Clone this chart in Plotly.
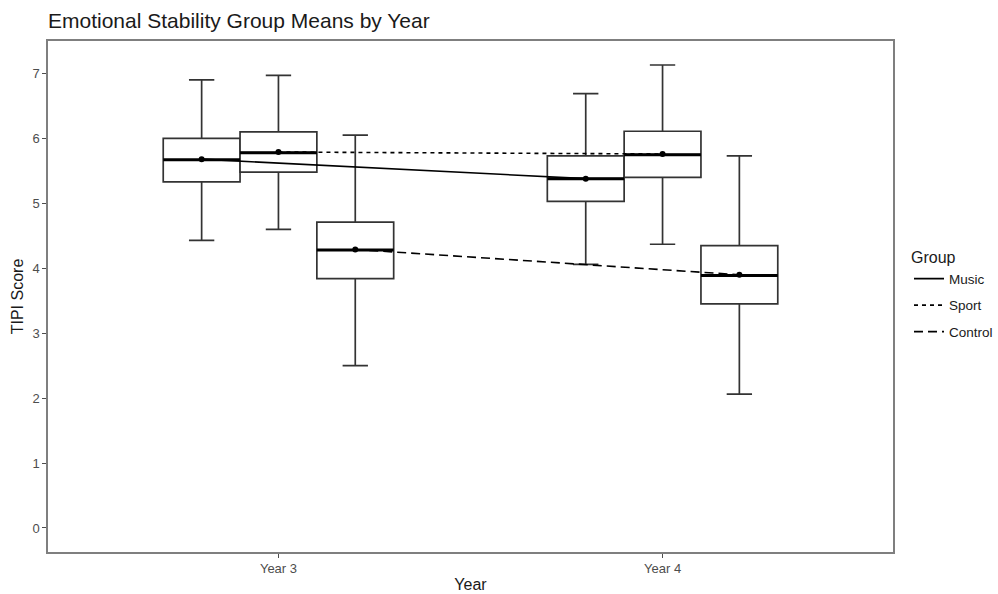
import plotly.graph_objects as go

years = ["Year 3", "Year 4"]
groups = ["Music", "Sport", "Control"]
dashes = {"Music": "solid", "Sport": "4px,4px", "Control": "9px,5px"}

# per group: values for [Year 3, Year 4]
lower = {"Music": [4.43, 4.06], "Sport": [4.60, 4.37], "Control": [2.50, 2.06]}
q1 = {"Music": [5.33, 5.03], "Sport": [5.48, 5.40], "Control": [3.84, 3.45]}
median = {"Music": [5.67, 5.38], "Sport": [5.78, 5.75], "Control": [4.28, 3.89]}
q3 = {"Music": [6.00, 5.73], "Sport": [6.10, 6.11], "Control": [4.71, 4.35]}
upper = {"Music": [6.90, 6.69], "Sport": [6.97, 7.13], "Control": [6.05, 5.73]}
means = {"Music": [5.68, 5.38], "Sport": [5.79, 5.76], "Control": [4.29, 3.90]}

dodge = 0.2
offsets = {g: (i - 1) * dodge for i, g in enumerate(groups)}
base = [1, 2]

fig = go.Figure()

for g in groups:
    xs = [b + offsets[g] for b in base]
    fig.add_trace(go.Box(
        x=xs, q1=q1[g], median=median[g], q3=q3[g],
        lowerfence=lower[g], upperfence=upper[g],
        width=dodge, whiskerwidth=0.33,
        fillcolor="white", line=dict(color="#333333", width=1.7),
        boxpoints=False, showlegend=False, hoverinfo="skip", name=g,
    ))

# thick median lines (ggplot fatten)
for g in groups:
    for b, m in zip(base, median[g]):
        c = b + offsets[g]
        fig.add_trace(go.Scatter(
            x=[c - dodge / 2, c + dodge / 2], y=[m, m], mode="lines",
            line=dict(color="black", width=3), showlegend=False, hoverinfo="skip",
        ))

# mean lines (legend) and points
for g in groups:
    xs = [b + offsets[g] for b in base]
    fig.add_trace(go.Scatter(
        x=xs, y=means[g], mode="lines", name=g,
        line=dict(color="black", width=1.6, dash=dashes[g]),
        legendgroup=g,
    ))
    fig.add_trace(go.Scatter(
        x=xs, y=means[g], mode="markers", name=g,
        marker=dict(color="black", size=6),
        showlegend=False, hoverinfo="skip",
    ))

font = "Liberation Sans, Arial, sans-serif"
axis_common = dict(
    showline=True, linecolor="#7f7f7f", linewidth=1.5, mirror=True,
    ticks="outside", ticklen=4, tickcolor="#4d4d4d", tickwidth=1,
    showgrid=False, zeroline=False, automargin=False,
    tickfont=dict(family=font, size=13, color="#4d4d4d"),
)

fig.update_layout(
    width=998, height=594,
    margin=dict(l=48, r=105, t=41, b=42, autoexpand=False),
    paper_bgcolor="white", plot_bgcolor="white",
    title=dict(text="Emotional Stability Group Means by Year", x=0, xref="paper", xanchor="left",
               y=1 - 21 / 594, yanchor="middle",
               font=dict(family=font, size=21, color="#1a1a1a")),
    xaxis=dict(range=[0.4, 2.6], tickvals=base, ticktext=years,
               title=dict(text="Year", font=dict(family=font, size=16, color="#1a1a1a"), standoff=3),
               **axis_common),
    yaxis=dict(range=[-0.37, 7.5], tickvals=list(range(0, 8)),
               title=dict(text="TIPI Score", font=dict(family=font, size=16, color="#1a1a1a"), standoff=5),
               **axis_common),
    legend=dict(
        title=dict(text="Group", font=dict(family=font, size=16, color="#1a1a1a")),
        font=dict(family=font, size=13.5, color="#1a1a1a"),
        xref="container", yref="container",
        x=909 / 998, xanchor="left", y=1 - 295 / 594, yanchor="middle",
        tracegroupgap=6, itemwidth=30,
    ),
    showlegend=True,
)

fig.write_html("out.html", post_script="document.body.style.margin='0';",
               config={"displayModeBar": False})
